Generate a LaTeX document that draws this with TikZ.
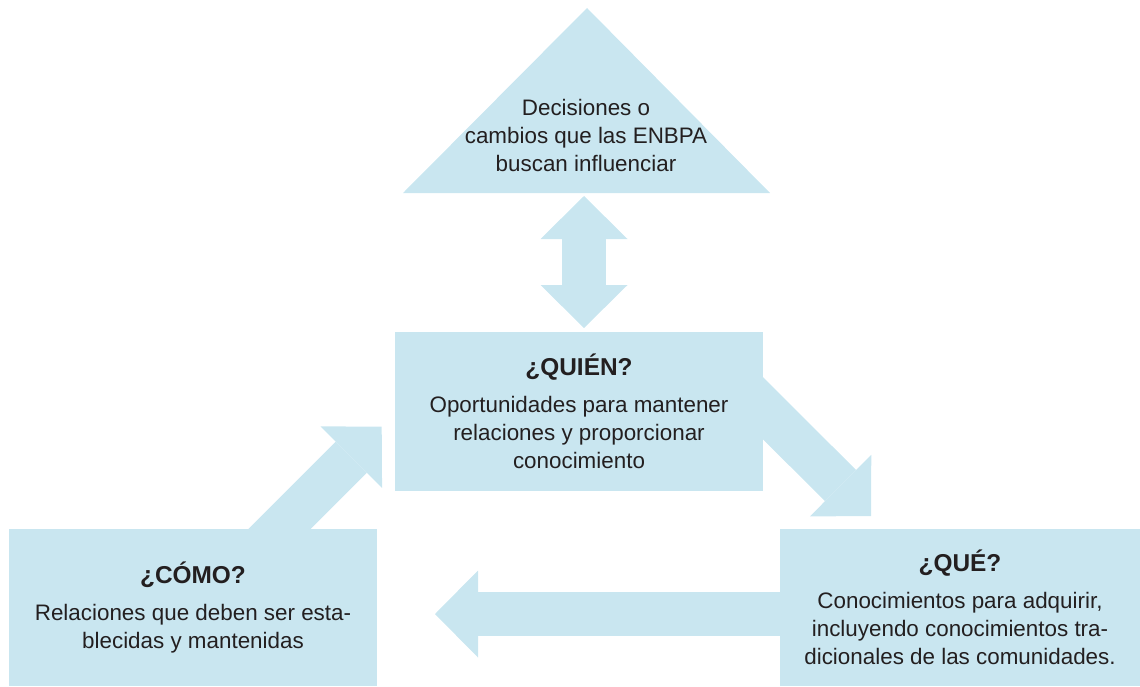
\documentclass[tikz,border=0pt]{standalone}
\usepackage{fontspec}
\setmainfont{Liberation Sans}
\usetikzlibrary{arrows.meta}
\definecolor{paleblue}{RGB}{201,230,240}
\definecolor{inkgray}{RGB}{35,31,32}
\tikzset{panel/.style = {fill = paleblue, inner sep = 0, align = center, text = inkgray,
                         font = \fontsize{11.2}{14}\selectfont}}
\tikzset{fathead/.tip = {Triangle[width = 43.5pt, length = 21.5pt, line width = 0pt]}}
\tikzset{fat/.style = {draw = paleblue, line width = 22pt, -{fathead}}}
\tikzset{fatboth/.style = {draw = paleblue, line width = 22pt, {fathead}-{fathead}}}
\newcommand{\qhead}[1]{{\fontsize{12.2}{14}\selectfont\bfseries #1}}

\begin{document}
\begin{tikzpicture}[x = 0.5pt, y = -0.5pt]
      \useasboundingbox (0, 0) rectangle (1140, 686);

      \fill [paleblue] (403, 193) -- (587, 8) -- (770, 193) -- cycle;
      \node [panel, fill = none] (decision) at (586, 135)
            {Decisiones o\\cambios que las ENBPA\\buscan influenciar};

      \coordinate (up) at (584, 196);
      \coordinate (down) at (584, 328);
      \coordinate (qout) at (730, 375.3);
      \coordinate (qin) at (871, 516);
      \coordinate (rout) at (800, 614);
      \coordinate (rin) at (435, 614);
      \coordinate (cout) at (259.4, 549);
      \coordinate (cin) at (381.7, 426.7);

      \draw [fatboth] (up) -- (down);
      \draw [fat] (qout) -- (qin);
      \draw [fat] (rout) -- (rin);
      \draw [fat] (cout) -- (cin);

      \node [panel, minimum width = 184pt, minimum height = 79.5pt] (quien) at (579, 411.5)
            {\qhead{¿QUIÉN?}\\[4.5pt]Oportunidades para mantener\\relaciones y proporcionar\\conocimiento};
      \node [panel, minimum width = 184pt, minimum height = 78.5pt] (como) at (193, 607.5)
            {\qhead{¿CÓMO?}\\[4.5pt]Relaciones que deben ser esta-\\blecidas y mantenidas};
      \node [panel, minimum width = 180pt, minimum height = 78.5pt] (que) at (960, 607.5)
            {\qhead{¿QUÉ?}\\[4.5pt]Conocimientos para adquirir,\\incluyendo conocimientos tra-\\dicionales de las comunidades.};
    \end{tikzpicture}
\end{document}
